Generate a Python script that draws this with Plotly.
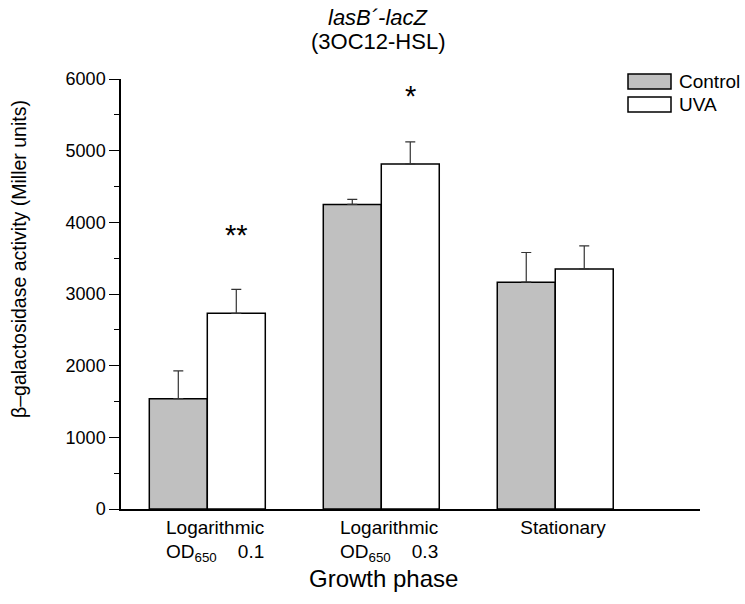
import plotly.graph_objects as go

phases = ["Logarithmic<br>OD<sub>650</sub>\u00a0\u00a0\u00a0 0.1",
          "Logarithmic<br>OD<sub>650</sub>\u00a0\u00a0\u00a0 0.3",
          "Stationary"]
control = [1540, 4250, 3165]
control_err = [387, 70, 414]
uva = [2730, 4815, 3350]
uva_err = [335, 308, 321]
stars = ["**", "*", ""]
star_y = [3830, 5760, None]

xpos = list(range(len(phases)))
FONT = "Liberation Sans, Arial, sans-serif"

fig = go.Figure()
fig.add_trace(go.Bar(
    x=xpos, y=control, name="Control",
    marker=dict(color="#c0c0c0", line=dict(color="black", width=1.5)),
    error_y=dict(type="data", symmetric=False, array=control_err,
                 arrayminus=[0] * 3, color="#333333", thickness=1.2, width=5),
))
fig.add_trace(go.Bar(
    x=xpos, y=uva, name="UVA",
    marker=dict(color="white", line=dict(color="black", width=1.5)),
    error_y=dict(type="data", symmetric=False, array=uva_err,
                 arrayminus=[0] * 3, color="#333333", thickness=1.2, width=5),
))

annotations = []
for i, (s, sy) in enumerate(zip(stars, star_y)):
    if s:
        annotations.append(dict(x=i + 1 / 6, y=sy, xref="x", yref="y", text=s,
                                showarrow=False, yanchor="middle",
                                font=dict(size=29, color="black", family=FONT)))

# titles
annotations.append(dict(x=0.444, y=(509 - 17) / 430, xref="paper", yref="paper",
                        text="<i>lasB\u00b4-lacZ</i>", showarrow=False, yanchor="middle",
                        font=dict(size=22, color="black", family=FONT)))
annotations.append(dict(x=0.444, y=(509 - 42) / 430, xref="paper", yref="paper",
                        text="(3OC12-HSL)", showarrow=False, yanchor="middle",
                        font=dict(size=22, color="black", family=FONT)))
annotations.append(dict(x=(383 - 121) / 579, y=(509 - 578) / 430, xref="paper", yref="paper",
                        text="Growth phase", showarrow=False, yanchor="middle",
                        font=dict(size=24, color="black", family=FONT)))
# y-axis title
annotations.append(dict(x=(19 - 121) / 579, y=(509 - 259) / 430, xref="paper", yref="paper",
                        text="\u03b2\u2013galactosidase activity (Miller units)",
                        textangle=-90, showarrow=False, xanchor="center", yanchor="middle",
                        font=dict(size=19.5, color="black", family=FONT)))

# manual legend
shapes = []
legend_items = [("Control", "#c0c0c0", 74, 89), ("UVA", "white", 97, 112)]
for name, col, ytop, ybot in legend_items:
    shapes.append(dict(type="rect", xref="paper", yref="paper",
                       x0=(628 - 121) / 579, x1=(671 - 121) / 579,
                       y0=(509 - ybot) / 430, y1=(509 - ytop) / 430,
                       fillcolor=col, line=dict(color="black", width=1.5)))
    annotations.append(dict(x=(677 - 121) / 579, y=(509 - (ytop + ybot) / 2) / 430,
                            xref="paper", yref="paper", xanchor="left", yanchor="middle",
                            text=name, showarrow=False,
                            font=dict(size=19, color="black", family=FONT)))

fig.update_layout(
    width=745, height=604,
    margin=dict(l=121, r=45, t=79, b=95),
    paper_bgcolor="white", plot_bgcolor="white",
    barmode="group", bargap=1 / 3, bargroupgap=0,
    showlegend=False,
    font=dict(family=FONT, color="black"),
    annotations=annotations, shapes=shapes,
)
fig.update_xaxes(
    range=[-0.496, 2.832],
    tickvals=[i + 0.045 for i in xpos], ticktext=phases,
    ticks="", showline=True, linecolor="black", linewidth=1.5,
    showgrid=False, zeroline=False,
    tickfont=dict(size=19, color="black", family=FONT),
)
fig.update_yaxes(
    range=[0, 6000], dtick=1000, tick0=0,
    ticks="outside", ticklen=10, tickwidth=1.2, tickcolor="black",
    minor=dict(dtick=500, ticks="outside", ticklen=5, tickwidth=1.2, tickcolor="black"),
    showline=True, linecolor="black", linewidth=1.5,
    showgrid=False, zeroline=False,
    tickfont=dict(size=18, color="black", family=FONT),
)

fig.write_html("out.html")
